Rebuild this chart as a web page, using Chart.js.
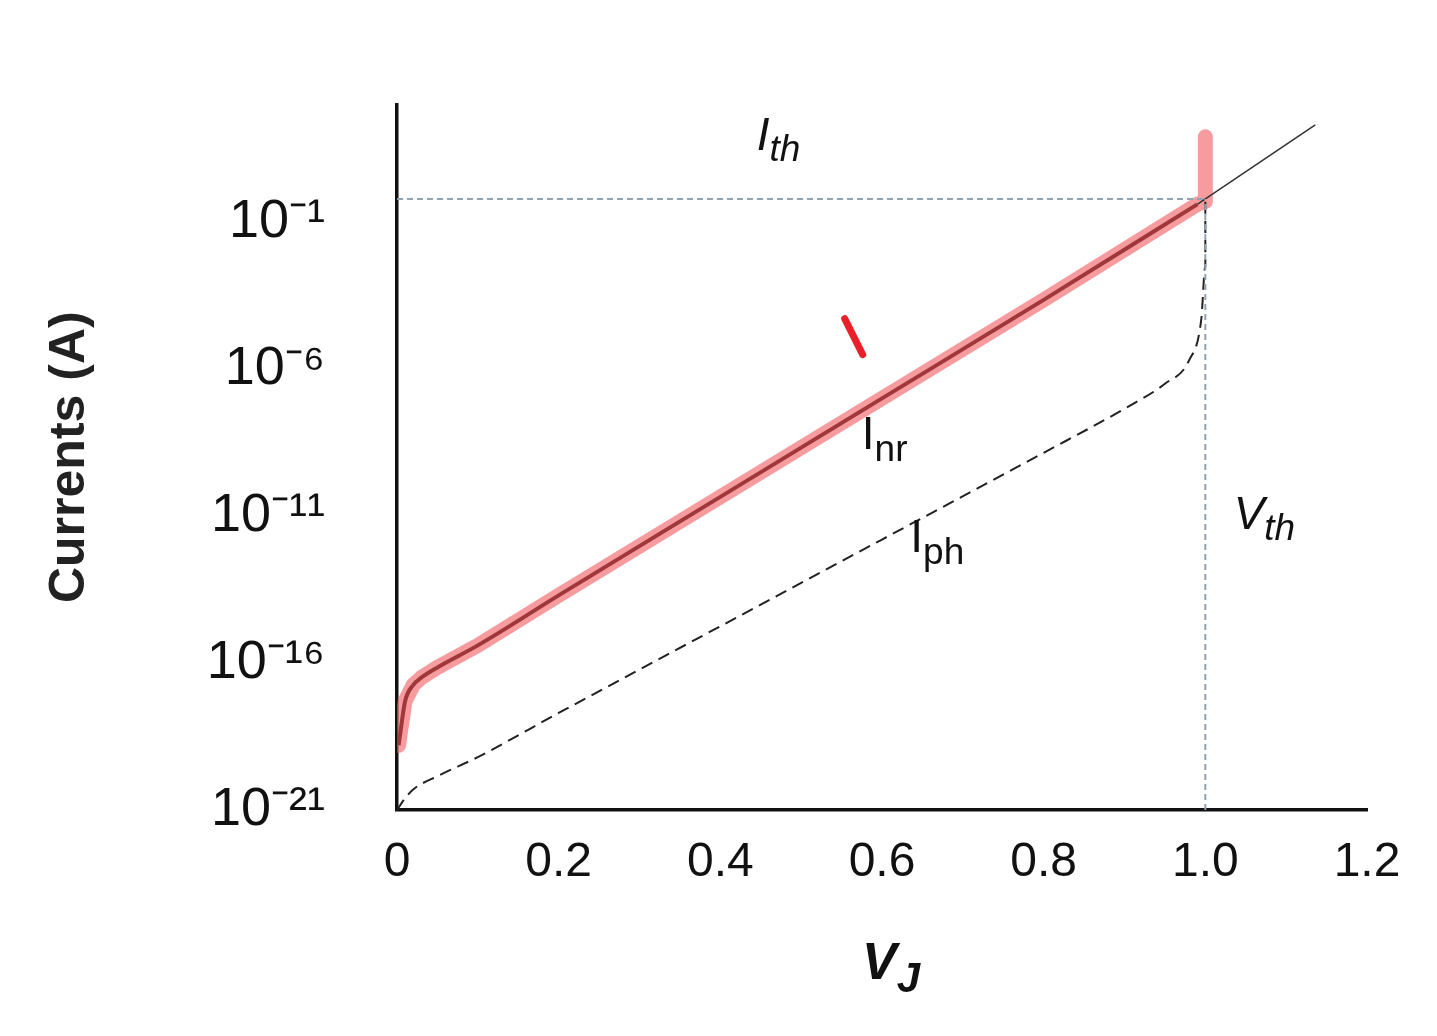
<!DOCTYPE html>
<html>
<head>
<meta charset="utf-8">
<script src="https://cdn.jsdelivr.net/npm/chart.js@4/dist/chart.umd.min.js"></script>
<style>
  body { margin:0; background:#fff; }
  #wrap { width:1437px; height:1036px; }
</style>
</head>
<body>
<div id="wrap"><canvas id="myChart"></canvas></div>
<script>
// currents stored as log10 exponents
var iV   = [0.002, 0.005, 0.01, 0.02, 0.03, 0.05, 0.1, 0.2, 0.4, 0.6, 0.8, 0.99]
var iExp = [-18.8, -18.2, -17.3, -16.75, -16.5, -16.15, -15.4, -13.7, -10.35, -7.0, -3.65, -0.4]
var spikeV   = [1.0, 1.0]
var spikeExp = [-0.3, 1.9]
var extV   = [0.99, 1.136]
var extExp = [-0.4, 2.3]
var phV   = [0, 0.01, 0.02, 0.05, 0.1, 0.2, 0.4, 0.6, 0.8, 0.9, 0.95, 0.98, 0.995, 1.0, 1.0]
var phExp = [-21, -20.6, -20.3, -19.85, -19.2, -17.7, -14.75, -11.8, -8.85, -7.35, -6.5, -5.7, -4.3, -2.5, -0.3]
var ithExp = -0.22
var vth = 1.0
var xTicks = [0, 0.2, 0.4, 0.6, 0.8, 1.0, 1.2]
var xTickLabels = ['0', '0.2', '0.4', '0.6', '0.8', '1.0', '1.2']
var yTickExp = [-21, -16, -11, -6, -1]
var yTickLabels = ['10⁻²¹', '10⁻¹⁶', '10⁻¹¹', '10⁻⁶', '10⁻¹']

function pts(xs, es) {
    return xs.map(function(x, i){ return {x: x, y: Math.pow(10, es[i])} })
}

var labels = {
    id: 'labels',
    afterDatasetsDraw: function(chart) {
        var c = chart.ctx, xs = chart.scales.x, ys = chart.scales.y
        function sub(main, s, px, py, italic, bold, size) {
            c.save(); c.fillStyle = '#111'; c.textBaseline = 'middle'
            var st = (italic ? 'italic ' : '') + (bold ? 'bold ' : '')
            c.font = st + size + 'px Arial, "Liberation Sans"'
            c.fillText(main, px, py)
            var w = c.measureText(main).width
            c.font = st + Math.round(size * 0.8) + 'px Arial, "Liberation Sans"'
            c.fillText(s, px + w, py + size * 0.3)
            c.restore()
        }
        function at(x, e) { return [xs.getPixelForValue(x), ys.getPixelForValue(Math.pow(10, e))] }
        var p
        p = at(0.445, 1.9); sub('I', 'th', p[0], p[1], true, false, 46)
        p = at(0.575, -8.3); sub('I', 'nr', p[0], p[1], false, false, 46)
        p = at(0.635, -11.8); sub('I', 'ph', p[0], p[1], false, false, 46)
        p = at(1.035, -11.0); sub('V', 'th', p[0], p[1], true, false, 46)
        sub('V', 'J', 862, 965, true, true, 52)
        p = at(0.565, -4.9)
        c.save(); c.strokeStyle = '#e8202a'; c.lineWidth = 7; c.lineCap = 'round'
        c.beginPath(); c.moveTo(p[0] - 9, p[1] - 18); c.lineTo(p[0] + 9, p[1] + 18); c.stroke(); c.restore()
    }
}

var ctx = document.getElementById('myChart').getContext('2d')
var chart = new Chart(ctx, {
    type: 'scatter',
    data: {
        datasets: [
            { data: pts([0, vth], [ithExp, ithExp]), showLine: true, borderColor: '#8fa3b0', borderWidth: 2, borderDash: [6, 4], pointRadius: 0 },
            { data: pts([vth, vth], [-21, ithExp]), showLine: true, borderColor: '#8fa3b0', borderWidth: 2, borderDash: [6, 4], pointRadius: 0 },
            { data: pts(extV, extExp), showLine: true, borderColor: '#333', borderWidth: 1.5, pointRadius: 0 },
            { data: pts(phV, phExp), showLine: true, borderColor: '#222', borderWidth: 2, borderDash: [12, 7], pointRadius: 0, cubicInterpolationMode: 'monotone' },
            { data: pts(iV.concat(spikeV), iExp.concat(spikeExp)), showLine: true, borderColor: 'rgba(240,90,95,0.6)', borderWidth: 15, pointRadius: 0, borderCapStyle: 'round', borderJoinStyle: 'round' },
            { data: pts(iV, iExp), showLine: true, borderColor: '#2a0404', borderWidth: 4, pointRadius: 0, cubicInterpolationMode: 'monotone' }
        ]
    },
    options: {
        responsive: true,
        maintainAspectRatio: false,
        animation: false,
        layout: { padding: { top: 40, right: 70, left: 40 } },
        plugins: { legend: { display: false }, tooltip: { enabled: false } },
        scales: {
            x: {
                type: 'linear', min: 0, max: 1.2,
                afterBuildTicks: function(s){ s.ticks = xTicks.map(function(v){ return {value: v} }) },
                afterFit: function(s){ s.height = 226 },
                ticks: {
                    callback: function(v){ var i = xTicks.indexOf(v); return i >= 0 ? xTickLabels[i] : '' },
                    font: { size: 48, family: 'Arial, "Liberation Sans"' }, color: '#111', maxRotation: 0, padding: 12
                },
                grid: { display: false, drawTicks: true, tickLength: 12, tickWidth: 3, tickColor: '#111' },
                border: { color: '#111', width: 3.5 }
            },
            y: {
                type: 'logarithmic', min: 1e-21, max: 1e3,
                afterBuildTicks: function(s){ s.ticks = yTickExp.map(function(e){ return {value: Math.pow(10, e)} }) },
                afterFit: function(s){ s.width = 357 },
                ticks: {
                    callback: function(v){
                        var e = Math.round(Math.log10(v)); var i = yTickExp.indexOf(e)
                        return i >= 0 ? yTickLabels[i] : ''
                    },
                    font: { size: 54, family: 'Arial, "Liberation Sans"' }, color: '#111', padding: 72
                },
                grid: { display: false, drawTicks: false },
                border: { color: '#111', width: 3.5 },
                title: { display: true, text: 'Currents (A)', font: { size: 50, weight: 'bold', family: 'Arial, "Liberation Sans"' }, color: '#222', padding: 0 }
            }
        }
    },
    plugins: [labels]
})
</script>
</body>
</html>
